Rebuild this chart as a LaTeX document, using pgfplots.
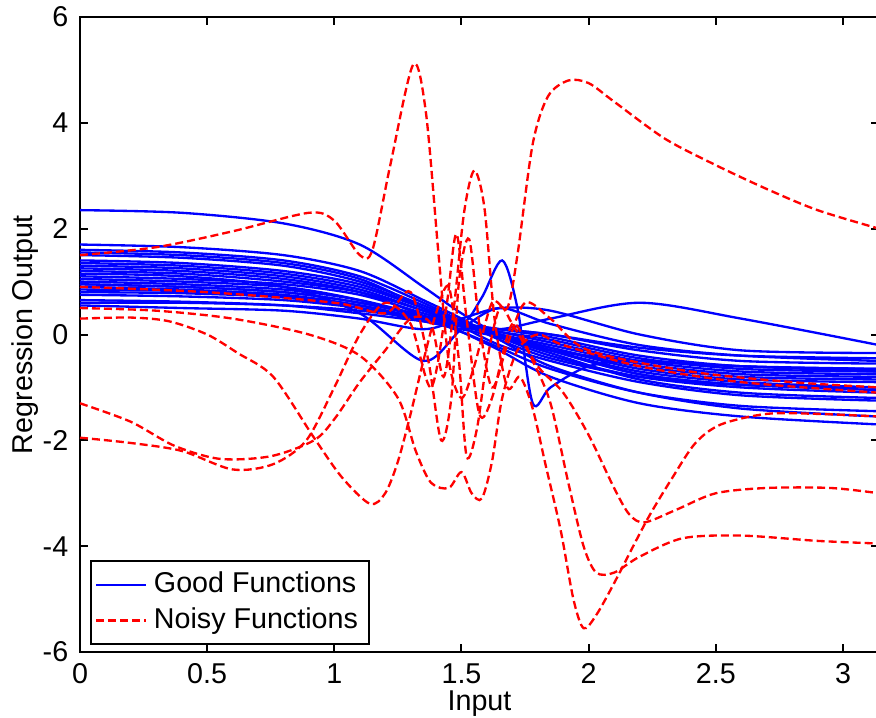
\documentclass[border=0pt]{standalone}
\usepackage{fontspec}
\setmainfont{Liberation Sans}
\usepackage{pgfplots}
\usepackage{pgfplotstable}
\pgfplotsset{compat=1.18}
\pgfplotsset{
  good/.style={blue, line width=0.7pt, smooth},
  noisy/.style={red, line width=0.7pt, smooth, dash pattern=on 2.4pt off 1.2pt},
}

% Good functions sampled on a common grid, one column per function
\pgfplotstableread{
x      b1    b2    b3    b4    b5    b6    b7    b8    b9    b10   b11   b12   b13   b14   b15   b16   b17   b18   b19   b20   b21   b22
0      2.35  1.7   1.6   1.5   1.4   1.3   1.2   1.1   1.0   0.95  0.9   0.85  0.75  0.65  1.25  1.05  0.6   1.15  1.55  0.55  1.35  0.8
0.4    2.3   1.65  1.55  1.45  1.35  1.25  1.15  1.05  0.95  0.9   0.85  0.82  0.72  0.62  1.2   1.0   0.6   1.1   1.5   0.5   1.3   0.78
0.8    2.1   1.5   1.4   1.3   1.2   1.1   1.0   0.95  0.85  0.8   0.75  0.72  0.65  0.55  1.05  0.9   0.55  0.9   1.35  0.45  1.15  0.7
1.1    1.7   1.2   1.1   1.0   0.95  0.85  0.8   0.75  0.65  0.6   0.55  0.55  0.5   0.4   0.8   0.65  0.45  0.4   1.05  0.3   0.9   0.5
1.35   0.9   0.65  0.6   0.55  0.5   0.45  0.45  0.4   0.35  0.35  0.3   0.3   0.3   0.25  0.35  0.3   0.3   -0.5  0.5   0.1   0.5   0.25
1.5    0.4   0.3   0.25  0.25  0.2   0.2   0.2   0.2   0.15  0.2   0.2   0.2   0.2   0.15  0.05  0.05  0.2   0.1   0.15  0.3   0.25  0.1
1.65   0.0   -0.1  -0.1  -0.05 -0.05 -0.05 0.0   0.0   0.0   0.05  0.05  0.1   0.1   0.1   -0.3  -0.25 0.1   0.5   -0.2  0.5   0.0   -0.05
1.85   -0.3  -0.6  -0.45 -0.4  -0.35 -0.3  -0.25 -0.25 -0.2  -0.15 -0.1  -0.05 0.0   0.0   -0.8  -0.65 0.3   0.2   -0.5  0.45  -0.3  -0.3
2.2    -0.5  -1.1  -0.8  -0.8  -0.85 -0.7  -0.65 -0.6  -0.55 -0.5  -0.45 -0.4  -0.3  -0.25 -1.3  -1.1  0.6   -0.2  -0.9  0.0   -0.75 -0.75
2.6    -0.6  -1.4  -0.95 -1.0  -1.1  -0.9  -0.85 -0.8  -0.75 -0.7  -0.65 -0.6  -0.5  -0.4  -1.55 -1.35 0.3   -0.4  -1.15 -0.3  -0.95 -0.95
3.1416 -0.65 -1.55 -1.0  -1.1  -1.2  -1.0  -0.9  -0.85 -0.8  -0.75 -0.7  -0.65 -0.55 -0.45 -1.7  -1.45 -0.2  -0.5  -1.25 -0.35 -1.05 -1.0
}\goodtable

\begin{document}
\begin{tikzpicture}[x=1pt,y=1pt]
\begin{axis}[
  name=ax,
  scale only axis,
  width=239.7pt, height=190.5pt,
  xmin=0, xmax=3.1416,
  ymin=-6, ymax=6,
  xtick={0,0.5,1,1.5,2,2.5,3},
  ytick={-6,-4,-2,0,2,4,6},
  tick align=inside,
  xtick pos=both, ytick pos=both,
  xticklabel pos=lower, yticklabel pos=left,
  major tick length=2.4pt,
  axis line style={black, line width=0.6pt},
  every tick/.style={black, line width=0.6pt},
  /pgf/number format/assume math mode=true,
  tick label style={font=\fontsize{8.6}{10}\selectfont},
  label style={font=\fontsize{8.6}{10}\selectfont},
  xlabel={Input},
  ylabel={Regression Output},
  xlabel style={yshift=5pt},
  ylabel style={yshift=-5.5pt},
  legend style={at={(0.0125,0.011)}, anchor=south west,
    font=\fontsize{8.6}{10}\selectfont, draw=black, line width=0.6pt,
    inner sep=1.2pt, row sep=-1pt, cells={anchor=west}},
  legend image code/.code={\draw[#1] (0pt,0pt) -- (15pt,0pt);},
]
\addlegendimage{good}
\addlegendentry{Good Functions}
\addlegendimage{noisy}
\addlegendentry{Noisy Functions}

% good functions
\pgfplotsinvokeforeach{1,...,22}{
  \addplot[good, forget plot] table[x=x, y=b#1] {\goodtable};
}
\addplot[good, forget plot] coordinates {
  (0,0.95) (0.4,0.9) (0.8,0.8) (1.1,0.6) (1.35,0.35) (1.5,0.2) (1.58,0.7)
  (1.66,1.4) (1.72,0.5) (1.78,-1.3) (1.85,-1.0) (2.0,-0.6) (2.2,-0.5)
  (2.6,-0.6) (3.1416,-0.7)};

% noisy functions
\addplot[noisy, forget plot] coordinates {
  (0,1.5) (0.3,1.65) (0.6,1.95) (0.9,2.3) (1.0,2.15) (1.1,1.5) (1.15,1.6)
  (1.22,3.2) (1.31,5.1) (1.36,4.2) (1.41,1.5) (1.45,-0.5) (1.5,-1.2)
  (1.55,-0.6) (1.62,0.6) (1.68,0.5) (1.72,1.5) (1.78,3.6) (1.84,4.5)
  (1.92,4.8) (2.0,4.75) (2.1,4.4) (2.3,3.7) (2.5,3.2) (2.7,2.75)
  (2.9,2.35) (3.1416,2.0)};
\addplot[noisy, forget plot] coordinates {
  (0,-1.3) (0.2,-1.65) (0.37,-2.1) (0.55,-2.35) (0.75,-2.3) (0.92,-2.0)
  (1.0,-1.6) (1.1,-0.9) (1.2,-0.3) (1.3,0.3) (1.38,0.2) (1.43,-0.8)
  (1.47,0.5) (1.51,2.3) (1.55,3.1) (1.59,2.4) (1.63,0.3) (1.68,-1.0)
  (1.73,-0.8) (1.78,-1.4) (1.83,-2.45) (1.89,-3.7) (1.94,-5.0)
  (1.98,-5.55) (2.03,-5.3) (2.1,-4.7) (2.23,-3.5) (2.33,-2.7)
  (2.42,-2.05) (2.52,-1.7) (2.7,-1.5) (2.9,-1.5) (3.1416,-1.55)};
\addplot[noisy, forget plot] coordinates {
  (0,-1.95) (0.2,-2.05) (0.4,-2.2) (0.6,-2.55) (0.76,-2.45) (0.89,-2.0)
  (1.0,-1.0) (1.1,0.0) (1.2,0.6) (1.3,0.2) (1.38,-1.0) (1.44,0.5)
  (1.48,1.9) (1.52,0.3) (1.57,-1.5) (1.62,-1.2) (1.7,0.2) (1.78,-0.5)
  (1.85,-1.3) (1.92,-2.8) (1.98,-4.0) (2.03,-4.5) (2.1,-4.5) (2.2,-4.2)
  (2.37,-3.85) (2.6,-3.8) (2.9,-3.9) (3.1416,-3.95)};
\addplot[noisy, forget plot] coordinates {
  (0,0.3) (0.2,0.32) (0.35,0.25) (0.5,0.0) (0.62,-0.35) (0.76,-0.8)
  (0.92,-1.95) (1.03,-2.7) (1.14,-3.2) (1.2,-3.0) (1.25,-2.4) (1.3,-1.5)
  (1.35,-0.5) (1.4,0.4) (1.45,0.9) (1.49,-0.5) (1.52,-2.3) (1.56,-1.8)
  (1.6,-0.5) (1.65,0.5) (1.7,0.2) (1.8,-0.6) (1.9,-1.1) (2.0,-1.9)
  (2.1,-2.9) (2.16,-3.4) (2.22,-3.55) (2.35,-3.3) (2.5,-3.0) (2.7,-2.9)
  (2.95,-2.9) (3.1416,-3.0)};
\addplot[noisy, forget plot] coordinates {
  (0,0.5) (0.3,0.45) (0.6,0.3) (0.9,0.0) (1.1,-0.4) (1.25,-1.2)
  (1.32,-2.2) (1.38,-2.8) (1.45,-2.9) (1.5,-2.6) (1.54,-3.0) (1.58,-3.1)
  (1.62,-2.4) (1.66,-1.2) (1.72,-0.3) (1.8,0.0) (1.9,-0.2) (2.2,-0.6)
  (2.6,-0.9) (3.1416,-1.1)};
\addplot[noisy, forget plot] coordinates {
  (0,0.9) (0.5,0.8) (1.0,0.6) (1.2,0.4) (1.3,0.8) (1.37,-0.5) (1.42,-2.0)
  (1.46,-1.2) (1.49,1.0) (1.53,1.8) (1.57,0.2) (1.62,-1.0) (1.68,-0.2)
  (1.75,0.6) (1.85,0.3) (2.0,-0.3) (2.4,-0.7) (2.8,-0.9) (3.1416,-1.0)};
\end{axis}
\pgfresetboundingbox
\useasboundingbox (ax.south west) ++(-24pt,-19.5pt) rectangle ++(262.8pt,215.1pt);
\end{tikzpicture}
\end{document}
